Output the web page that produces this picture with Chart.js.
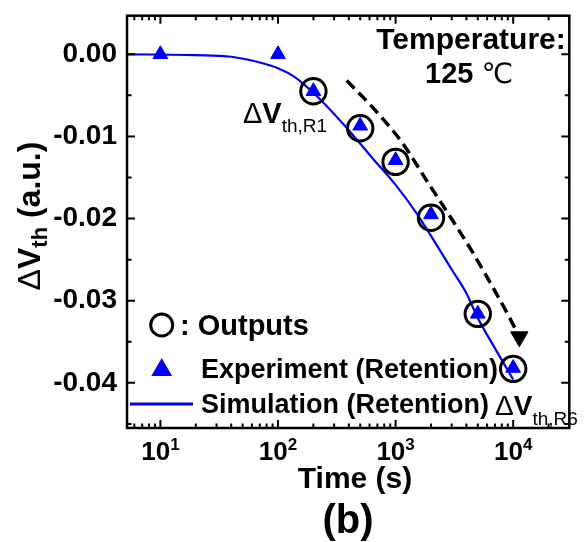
<!DOCTYPE html>
<html>
<head>
<meta charset="utf-8">
<script src="https://cdn.jsdelivr.net/npm/chart.js@4"></script>
<style>
  html, body { margin: 0; padding: 0; background: #fff; overflow: hidden; }
  #chart { display: block; }
</style>
</head>
<body>
<canvas id="chart" width="585" height="542"></canvas>
<script>
// ── Data (time in s, ΔVth in a.u.) ──
const EXP_T  = [10, 100, 200, 500, 1000, 2000, 5000, 10000];
const EXP_DV = [0, 0, -0.0045, -0.0087, -0.0129, -0.0195, -0.0316, -0.0382];
const OUT_T  = [200, 500, 1000, 2000, 5000, 10000];
const OUT_DV = [-0.0045, -0.0090, -0.0131, -0.0199, -0.0316, -0.0383];
const SIM_T  = [5, 20, 40, 70, 100, 140, 190, 240, 370, 650, 1000, 1500, 2000, 3000, 4000, 5000, 7000, 10000];
const SIM_DV = [0, -0.0001, -0.0003, -0.0010, -0.0017, -0.0028, -0.0044, -0.0058, -0.0087, -0.0128,
                -0.0159, -0.0193, -0.0221, -0.0262, -0.0291, -0.0321, -0.0358, -0.0396];
// dashed guide arrow
const ARROW_T  = [384, 660, 1130, 1900, 2950, 4470, 6980, 9500, 11270];
const ARROW_DV = [-0.0032, -0.0067, -0.0107, -0.0157, -0.0199, -0.0240, -0.0288, -0.0323, -0.0344];

const X_MIN = 5.2, X_MAX = 30000;
const Y_MIN = -0.0455, Y_MAX = 0.0047;
const X_TICKS = [10, 100, 1000, 10000];
const X_TICK_EXP = ['1', '2', '3', '4'];
const Y_TICKS = [0, -0.01, -0.02, -0.03, -0.04];
const Y_MINOR = [-0.005, -0.015, -0.025, -0.035, -0.045];

const BLUE = '#0000ff';
const FAM = '"Liberation Sans", Arial, "DejaVu Sans", sans-serif';
const font = (size, weight = 'bold') => `${weight} ${size}px ${FAM}`;

const pts = (xs, ys) => xs.map((x, i) => ({ x, y: ys[i] }));

// draws a run of text pieces (for sub/superscripts), returns end x
function drawParts(ctx, parts, x, y) {
  parts.forEach(p => {
    ctx.font = p.font;
    ctx.fillText(p.text, x, y + (p.dy || 0));
    x += ctx.measureText(p.text).width;
  });
  return x;
}
function partsWidth(ctx, parts) {
  return parts.reduce((w, p) => { ctx.font = p.font; return w + ctx.measureText(p.text).width; }, 0);
}

// ── Frame, inward ticks, labels, legend ──
const decor = {
  id: 'decor',
  afterDraw(chart) {
    const { ctx, chartArea: a, scales: { x, y } } = chart;
    ctx.save();
    ctx.strokeStyle = '#000';
    ctx.fillStyle = '#000';
    ctx.lineCap = 'butt';

    // x ticks, bottom and top
    ctx.lineWidth = 2;
    for (let d = 0; d <= 4; d++) {
      for (let m = 1; m <= 9; m++) {
        const v = m * Math.pow(10, d);
        if (v <= X_MIN || v >= X_MAX) continue;
        const px = x.getPixelForValue(v);
        const len = m === 1 ? 8 : 4.5;
        ctx.beginPath();
        ctx.moveTo(px, a.bottom); ctx.lineTo(px, a.bottom - len);
        ctx.moveTo(px, a.top); ctx.lineTo(px, a.top + len);
        ctx.stroke();
      }
    }
    // y ticks, left and right
    Y_TICKS.map(v => [v, 8]).concat(Y_MINOR.map(v => [v, 4.5])).forEach(([v, len]) => {
      const py = y.getPixelForValue(v);
      ctx.beginPath();
      ctx.moveTo(a.left, py); ctx.lineTo(a.left + len, py);
      ctx.moveTo(a.right, py); ctx.lineTo(a.right - len, py);
      ctx.stroke();
    });
    // box
    ctx.lineWidth = 2.5;
    ctx.strokeRect(a.left, a.top, a.right - a.left, a.bottom - a.top);

    // x tick labels 10^n
    ctx.textAlign = 'left';
    ctx.textBaseline = 'alphabetic';
    X_TICKS.forEach((v, i) => {
      const parts = [{ text: '10', font: font(26) }, { text: X_TICK_EXP[i], font: font(17), dy: -10 }];
      const w = partsWidth(ctx, parts);
      drawParts(ctx, parts, x.getPixelForValue(v) - w / 2, 460);
    });

    // axis titles
    ctx.textAlign = 'center';
    ctx.font = font(30);
    ctx.fillText('Time (s)', 355, 488);
    ctx.font = font(40);
    ctx.fillText('(b)', 348, 533);

    ctx.textAlign = 'left';
    const yTitle = [
      { text: 'Δ', font: font(32, 'normal') },
      { text: 'V', font: font(32) },
      { text: 'th', font: font(22), dy: 7 },
      { text: ' (a.u.)', font: font(32) }
    ];
    const yw = partsWidth(ctx, yTitle);
    ctx.save();
    ctx.translate(40, 216 + yw / 2);
    ctx.rotate(-Math.PI / 2);
    drawParts(ctx, yTitle, 0, 0);
    ctx.restore();

    // temperature note
    ctx.textAlign = 'center';
    ctx.font = font(30);
    ctx.fillText('Temperature:', 471, 48.5);
    ctx.textAlign = 'left';
    const temp = [{ text: '125 ', font: font(29) }, { text: '℃', font: font(28, 'normal') }];
    drawParts(ctx, temp, 469 - partsWidth(ctx, temp) / 2, 83);

    // ΔVth,R1 / ΔVth,R6 labels
    drawParts(ctx, [
      { text: 'Δ', font: font(29, 'normal') },
      { text: 'V', font: font(29) },
      { text: 'th,R1', font: font(19, 'normal'), dy: 8.5 }
    ], 243, 123);
    drawParts(ctx, [
      { text: 'Δ', font: font(28, 'normal') },
      { text: 'V', font: font(28) },
      { text: 'th,R6', font: font(19, 'normal'), dy: 10 }
    ], 495, 415);

    // legend
    ctx.lineWidth = 3;
    ctx.beginPath();
    ctx.arc(161.7, 325, 11, 0, Math.PI * 2);
    ctx.stroke();
    ctx.font = font(29);
    ctx.fillText(': Outputs', 180, 335);

    ctx.fillStyle = BLUE;
    ctx.beginPath();
    ctx.moveTo(161.7, 358);
    ctx.lineTo(172.1, 376);
    ctx.lineTo(151.3, 376);
    ctx.closePath();
    ctx.fill();
    ctx.strokeStyle = BLUE;
    ctx.beginPath();
    ctx.moveTo(130, 404); ctx.lineTo(193, 404);
    ctx.stroke();

    ctx.fillStyle = '#000';
    ctx.font = font(27);
    ctx.fillText('Experiment (Retention)', 201, 378);
    ctx.fillText('Simulation (Retention)', 201, 413);
    ctx.restore();
  }
};

new Chart(document.getElementById('chart'), {
  type: 'scatter',
  data: {
    datasets: [
      {
        label: 'Outputs',
        data: pts(OUT_T, OUT_DV),
        pointStyle: 'circle', pointRadius: 12.7, borderWidth: 3,
        borderColor: '#000', backgroundColor: 'rgba(0,0,0,0)'
      },
      {
        label: 'Experiment (Retention)',
        data: pts(EXP_T, EXP_DV),
        pointStyle: 'triangle', pointRadius: 8.5, borderWidth: 1,
        borderColor: BLUE, backgroundColor: BLUE
      },
      {
        label: 'arrow',
        data: pts(ARROW_T, ARROW_DV),
        showLine: true, borderColor: '#000', borderWidth: 3.5, borderDash: [11, 6],
        cubicInterpolationMode: 'monotone',
        pointRadius: ARROW_T.map((_, i) => i === ARROW_T.length - 1 ? 10 : 0),
        pointStyle: 'triangle', rotation: 180,
        pointBackgroundColor: '#000', pointBorderColor: '#000', pointBorderWidth: 1
      },
      {
        label: 'Simulation (Retention)',
        data: pts(SIM_T, SIM_DV),
        showLine: true, borderColor: BLUE, borderWidth: 2.2,
        cubicInterpolationMode: 'monotone', pointRadius: 0
      }
    ]
  },
  options: {
    responsive: false, animation: false, devicePixelRatio: 1,
    layout: { padding: { top: 13, right: 5.5, bottom: 0, left: 0 } },
    plugins: { legend: { display: false }, tooltip: { enabled: false } },
    scales: {
      x: {
        type: 'logarithmic', min: X_MIN, max: X_MAX,
        afterBuildTicks: s => { s.ticks = X_TICKS.map(v => ({ value: v })); },
        afterFit: s => { s.height = 114; s.paddingLeft = 0; s.paddingRight = 0; },
        grid: { display: false }, border: { display: false },
        ticks: { display: false }
      },
      y: {
        min: Y_MIN, max: Y_MAX,
        afterBuildTicks: s => { s.ticks = Y_TICKS.map(v => ({ value: v })); },
        afterFit: s => { s.width = 127; s.paddingTop = 0; s.paddingBottom = 0; },
        grid: { display: false, drawTicks: false }, border: { display: false },
        ticks: {
          font: { size: 28, weight: 'bold', family: FAM }, color: '#000', padding: 10,
          callback: v => v.toFixed(2)
        }
      }
    }
  },
  plugins: [decor]
});
</script>
</body>
</html>
